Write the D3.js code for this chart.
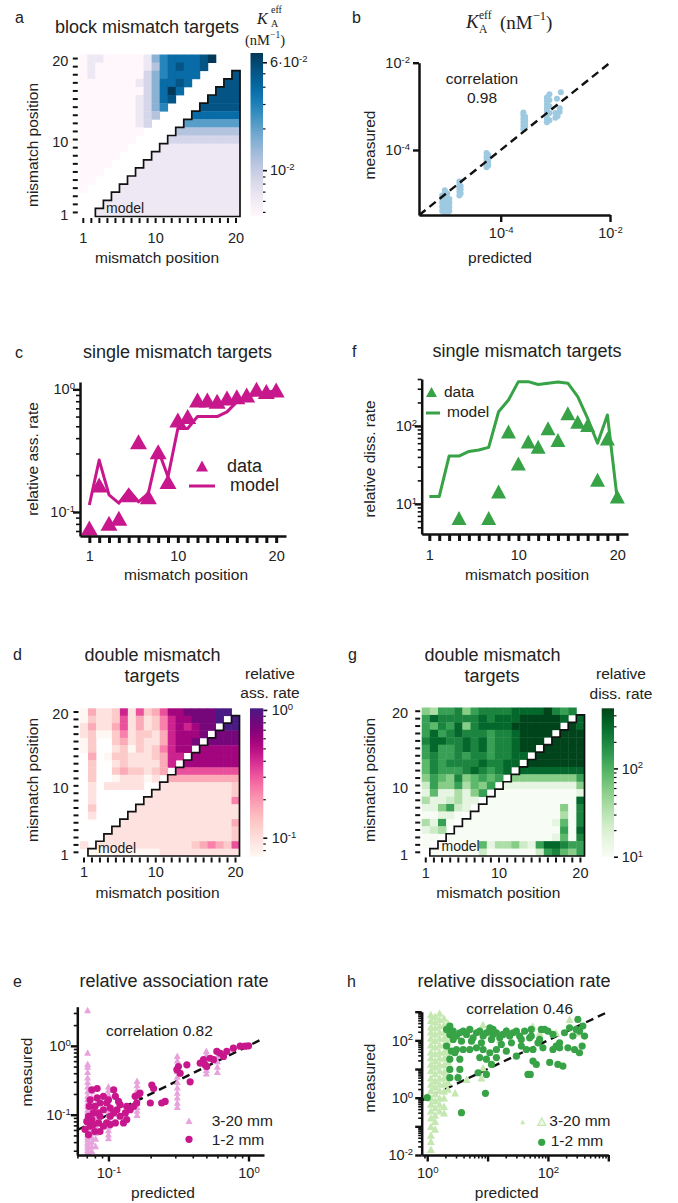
<!DOCTYPE html>
<html>
<head>
<meta charset="utf-8">
<title>mismatch targets</title>
<script src="https://cdn.jsdelivr.net/npm/d3@7/dist/d3.min.js"></script>
<style>
  body { margin: 0; background: #fff; }
  text { font-family: "Liberation Sans", Arial, Helvetica, sans-serif; fill: #222; }
  text.math { font-family: "Liberation Serif", "DejaVu Serif", serif; }
</style>
</head>
<body>
<script>
// ---------------- data ----------------
var positions = [1, 2, 3, 4, 5, 6, 7, 8, 9, 10, 11, 12, 13, 14, 15, 16, 17, 18, 19, 20];

// heat maps: one string per row, row 20 first, columns 1..20.
// digit = level 0-9 along the colour bar (log), "." = no target
var blockLevels = [
  "01100000146777789...",
  "0100000013678778....",
  "010000002467777....8",
  "00000001247787....88",
  "0000000024797....888",
  "000000012478....8888",
  "00000001246....88888",
  "0000000123....777777",
  "000000012....5555555",
  "00000000....33333333",
  "0000000....222222222",
  "000000....1111111111",
  "00000....11111111111",
  "0000....111111111111",
  "000....1111111111111",
  "00....11111111111111",
  "0....111111111111111",
  "....1111111111111111",
  "...11111111111111111",
  "..111111111111111111"
];
var doubleAssocLevels = [
  "0311261523577888899.",
  "021125131246778889.9",
  "13113513124676788.99",
  "1200241221367778.888",
  "02..23121136778.8888",
  "02..1202124677.77777",
  ".3.0221112366.777777",
  ".2..12111136.7777777",
  ".2..2322123.55555555",
  ".2..011101.333333333",
  ".1.11111..1111111112",
  ".1.......11111111112",
  ".1......111111111114",
  ".2.....1111111111111",
  ".1....11111111111111",
  ".....111111111111113",
  "....1111111111111112",
  "...11111111111111112",
  "1.111111111111234325",
  ".0000000001111111111"
];
var doubleDissLevels = [
  "4366746777788889767.",
  "687777787888999998.8",
  "65768478888999999.98",
  "6867877767789999.999",
  "788778786778999.9999",
  "68667878677899.99999",
  "6766767767788.999999",
  "576777787788.9999999",
  "57666787678.88888888",
  "4654745656.444444446",
  "264463546.1111111114",
  "15113146.00000000001",
  "3112311.000000000008",
  "114621.0000000000407",
  "00110.00000000000307",
  "3160.000000000001507",
  "123.0000000000000608",
  "00.00000000000001507",
  "0.000005133421688766",
  ".0000002000000267546"
];

// b: K_A^eff, [predicted, measured]
var kaPoints = [
  [8.5e-6, 4.0e-6], [8.5e-6, 5.0e-6], [8.5e-6, 6.2e-6], [8.5e-6, 7.5e-6], [8.5e-6, 9.0e-6],
  [9.5e-6, 3.7e-6], [9.5e-6, 4.5e-6], [9.5e-6, 5.5e-6], [9.5e-6, 6.8e-6], [9.5e-6, 8.2e-6], [9.5e-6, 1.0e-5], [9.5e-6, 1.2e-5],
  [1.05e-5, 3.6e-6], [1.05e-5, 4.3e-6], [1.05e-5, 5.3e-6], [1.05e-5, 6.5e-6], [1.05e-5, 8e-6], [1.05e-5, 1.0e-5],
  [1.15e-5, 4.0e-6], [1.15e-5, 5.0e-6], [1.15e-5, 6.2e-6], [1.15e-5, 7.5e-6],
  [1.75e-5, 9e-6], [1.75e-5, 1.1e-5], [1.75e-5, 1.35e-5], [1.75e-5, 1.6e-5], [1.75e-5, 1.9e-5],
  [1.85e-5, 1e-5], [1.85e-5, 1.25e-5], [1.85e-5, 1.5e-5],
  [5.5e-5, 4e-5], [5.5e-5, 4.8e-5], [5.5e-5, 5.8e-5], [5.5e-5, 7e-5], [5.5e-5, 8.5e-5],
  [5.9e-5, 4.4e-5], [5.9e-5, 5.3e-5], [5.9e-5, 6.4e-5], [5.9e-5, 7.7e-5],
  [2.6e-4, 3e-4], [2.6e-4, 3.6e-4], [2.6e-4, 4.3e-4], [2.6e-4, 5.2e-4], [2.6e-4, 6.3e-4], [2.6e-4, 7.2e-4],
  [2.8e-4, 3.3e-4], [2.8e-4, 4e-4], [2.8e-4, 4.8e-4], [2.8e-4, 5.8e-4],
  [7.0e-4, 4.3e-4], [7.0e-4, 5.2e-4], [7.0e-4, 6.3e-4], [7.0e-4, 7.6e-4], [7.0e-4, 9.2e-4], [7.0e-4, 1.1e-3], [7.0e-4, 1.35e-3], [7.0e-4, 1.6e-3],
  [7.8e-4, 4.8e-4], [7.8e-4, 7e-4], [7.8e-4, 1e-3], [7.8e-4, 1.4e-3], [7.8e-4, 1.9e-3],
  [1.0e-3, 5.5e-4], [1.0e-3, 7e-4], [1.1e-3, 6e-4], [1.2e-3, 7.5e-4], [1.2e-3, 9e-4],
  [1.07e-3, 1.5e-3], [1.26e-3, 2.1e-3]
];

// c, f: single mismatch targets per position
var singleAssocData  = [0.074, 0.166, 0.081, 0.089, 0.138, 0.374, 0.133, 0.31, 0.177, 0.562, 0.6, 0.82, 0.82, 0.8, 0.85, 0.87, 0.9, 1.0, 0.96, 0.99];
var singleAssocModel = [0.114, 0.265, 0.138, 0.118, 0.151, 0.121, 0.142, 0.32, 0.194, 0.48, 0.48, 0.6, 0.6, 0.6, 0.655, 0.79, 0.85, 0.93, 0.93, 0.99];
var singleDissData   = [null, null, null, 6.6, null, null, 6.6, 14.4, 84.5, 33, 63, 54, 93, 66, 145, 113, 103, 20.3, 69, 12.4];
var singleDissModel  = [12.4, 12.4, 41, 41, 47, 49, 53, 152, 215, 370, 370, 340, 353, 365, 353, 238, 125, 60, 138, 11.3];

// e: relative association rate, 3-20 mm (predicted value with its measured values) and 1-2 mm pairs
var assocMultiPred = [0.071, 0.076, 0.081, 0.1, 0.16, 0.31, 0.5, 0.6];
var assocMultiMeas = [
  [0.029, 0.031, 0.034, 0.037, 0.040, 0.044, 0.048, 0.052, 0.057, 0.062, 0.068, 0.075, 0.082, 0.09, 0.1, 0.11, 0.12, 0.135, 0.15, 0.17, 0.19, 0.22, 0.26, 0.3, 0.35, 0.42, 0.5, 0.55, 0.8, 3.3],
  [0.03, 0.035, 0.041, 0.048, 0.056, 0.065, 0.075, 0.087, 0.1, 0.115, 0.13, 0.15, 0.18, 0.22],
  [0.035, 0.045, 0.055, 0.07, 0.085, 0.1, 0.12, 0.14],
  [0.046, 0.052, 0.06, 0.068, 0.077, 0.087, 0.1, 0.115, 0.13, 0.15, 0.17, 0.2, 0.23, 0.26],
  [0.1, 0.115, 0.13, 0.15, 0.17, 0.2, 0.23, 0.27, 0.31],
  [0.13, 0.15, 0.18, 0.21, 0.25, 0.3, 0.36, 0.43, 0.52, 0.62, 0.72],
  [0.4, 0.45, 0.5, 0.57, 0.65, 0.75, 0.85],
  [0.42, 0.5, 0.6, 0.72, 0.85]
];
var assocDouble = [
  [0.072, 0.051], [0.074, 0.068], [0.076, 0.085], [0.078, 0.106], [0.080, 0.132], [0.083, 0.175], [0.073, 0.132],
  [0.087, 0.095], [0.092, 0.118], [0.097, 0.148], [0.103, 0.095], [0.109, 0.106], [0.115, 0.118], [0.085, 0.076],
  [0.080, 0.057], [0.076, 0.23], [0.083, 0.24], [0.092, 0.185], [0.1, 0.165], [0.112, 0.076], [0.121, 0.095],
  [0.132, 0.106], [0.135, 0.132], [0.143, 0.118], [0.151, 0.132], [0.155, 0.185], [0.164, 0.195], [0.168, 0.206],
  [0.159, 0.148], [0.135, 0.085], [0.112, 0.185], [0.109, 0.23], [0.121, 0.14], [0.204, 0.27], [0.21, 0.24],
  [0.199, 0.148], [0.24, 0.148], [0.254, 0.156], [0.308, 0.45], [0.316, 0.5], [0.325, 0.4], [0.363, 0.53],
  [0.383, 0.3], [0.452, 0.56], [0.477, 0.63], [0.49, 0.53], [0.503, 0.5], [0.532, 0.66], [0.562, 0.63],
  [0.594, 0.83], [0.628, 0.78], [0.663, 0.7], [0.7, 0.83], [0.78, 0.925], [0.872, 0.99], [0.946, 0.99], [1.0, 1.0],
  [0.092, 0.068], [0.097, 0.076], [0.087, 0.148], [0.078, 0.072], [0.072, 0.095], [0.087, 0.057], [0.103, 0.125],
  [0.074, 0.165], [0.085, 0.106], [0.068, 0.061], [0.070, 0.080], [0.128, 0.076], [0.103, 0.072], [0.118, 0.156]
];

// h: relative dissociation rate
var dissMultiPred = [1.15, 1.35, 1.6, 1.9, 2.2];
var dissMultiMeas = [
  [800, 500, 300, 200, 120, 70, 40, 25, 15, 9, 5, 3, 1.8, 1, 0.6, 0.35, 0.2, 0.1, 0.05, 0.03, 0.016],
  [700, 450, 280, 170, 100, 60, 35, 20, 12, 7, 4, 2.4, 1.4, 0.8, 0.45, 0.25, 0.15, 0.08],
  [900, 550, 330, 200, 120, 70, 40, 25, 15, 9, 5, 3, 1.8, 1, 0.6, 0.35],
  [600, 350, 200, 120, 70, 40, 24, 14, 8, 5, 3, 1.7, 1, 0.5, 0.3],
  [400, 250, 150, 90, 50, 30, 18, 10, 6, 3.5, 2]
];
var dissMultiExtra = [[8.4, 360], [7.9, 5], [8.4, 11], [4.5, 4.4], [3.1, 5.7], [2.9, 1.5], [73, 184], [56, 315],
  [228, 540], [330, 184], [16, 107], [9.6, 184], [20.5, 240], [137, 184]];
var dissDouble = [
  [2.09, 240], [2.37, 161], [2.69, 210], [3.05, 141], [3.47, 184], [3.94, 210], [4.47, 161], [5.07, 240], [5.76, 123],
  [6.54, 184], [7.42, 210], [8.43, 141], [9.57, 184], [10.9, 210], [12.3, 161], [14.0, 184], [15.9, 123], [18.0, 161],
  [20.5, 210], [23.2, 141], [26.4, 184], [30.0, 210], [34.0, 141], [41.1, 210], [49.8, 123], [72.8, 108], [88.1, 240],
  [100, 210], [121, 161], [137, 63], [156, 82], [188, 184], [228, 275], [259, 141], [294, 240], [333, 210], [379, 314],
  [404, 141], [369, 63], [333, 37], [156, 55], [121, 48], [82.6, 55], [68.4, 82], [56.5, 48], [43.9, 48], [36.2, 63],
  [30.0, 28], [20.5, 42], [14.0, 48], [10.9, 37], [8.43, 48], [6.54, 55], [5.07, 48], [3.94, 48], [3.05, 48],
  [2.52, 42], [2.09, 63], [2.37, 22], [2.87, 37], [3.47, 22], [9.57, 22], [7.42, 25], [11.6, 14.5], [14.0, 25],
  [6.97, 7.4], [9.57, 6.5], [3.47, 9.7], [2.37, 9.7], [2.37, 5.0], [3.25, 5.0], [56.5, 19], [64.1, 14.5], [46.7, 6.5],
  [51.0, 6.5], [107, 17], [146, 14.5], [177, 12.7], [214, 55], [276, 48], [2.69, 108], [3.69, 94], [5.41, 94],
  [7.91, 82], [11.6, 108], [16.9, 72], [24.8, 82], [36.2, 108], [53.0, 141], [12.3, 240], [2.37, 314], [77.6, 240],
  [313, 536], [10.9, 275], [53.0, 240], [1.0, 1.0], [3.69, 0.30], [9.21, 1.42]
];

// ---------------- drawing ----------------
var svg = d3.select("body").append("svg").attr("width", 678).attr("height", 1203);
var defs = svg.append("defs");
var spine = "#111";
var magenta = "#c8178c", pinkLight = "#e6a3dc", green = "#37a346", greenLight = "#c4e8b0", blueLight = "#9ecae1";

function label(x, y, s, size, anchor) {
  return svg.append("text").attr("x", x).attr("y", y).attr("font-size", size)
    .attr("text-anchor", anchor || "start").text(s);
}
function vlabel(x, y, s) {
  return svg.append("text").attr("transform", "translate(" + x + "," + y + ") rotate(-90)")
    .attr("text-anchor", "middle").attr("font-size", 15.5).text(s);
}
function mathText(x, y, size, s, italic) {
  var t = svg.append("text").attr("class", "math").attr("x", x).attr("y", y).attr("font-size", size).text(s);
  if (italic) t.attr("font-style", "italic");
  return t;
}
// "(nM^-1)" on one baseline, superscript raised
function unitText(x, y, size) {
  var t = svg.append("text").attr("class", "math").attr("x", x).attr("y", y).attr("font-size", size);
  t.append("tspan").text("(nM");
  t.append("tspan").attr("dy", -0.45 * size).attr("font-size", size * 0.66).text("−1");
  t.append("tspan").attr("dy", 0.45 * size).text(")");
  return t;
}
function powLabel(d) { return ["10", String(Math.round(Math.log10(d)))]; }
function logMinors(lo, hi) {
  var out = [];
  for (var e = Math.floor(Math.log10(lo)); e <= Math.ceil(Math.log10(hi)); e++)
    for (var k = 2; k <= 9; k++) {
      var v = k * Math.pow(10, e);
      if (v >= lo && v <= hi) out.push(v);
    }
  return out;
}
function tickText(g, fmt, size, dy) {
  g.selectAll(".tick text").attr("font-size", size || 14.5).each(function(d) {
    var t = d3.select(this), p = fmt(d);
    t.text("");
    if (dy) t.attr("dy", dy);
    if (!p) return;
    t.append("tspan").text(p[0]);
    if (p[1] !== undefined) t.append("tspan").attr("dy", "-0.55em").attr("font-size", "0.66em").text(p[1]);
  });
}
function axis(fn, scale, o) {
  var g = svg.append("g").attr("transform", o.tr);
  if (o.minor) {
    var m = g.append("g").call(fn(scale).tickValues(o.minor).tickSize(o.minLen || 4).tickSizeOuter(0).tickFormat(""));
    m.select(".domain").remove();
    m.selectAll(".tick line").attr("stroke", spine).attr("stroke-width", o.minW || 1.6);
  }
  var a = g.append("g").call(fn(scale).tickValues(o.major).tickSize(o.majLen || 7)
    .tickSizeOuter(0).tickPadding(o.pad == null ? 3 : o.pad));
  if (o.noDomain) a.select(".domain").remove();
  else a.select(".domain").attr("stroke", spine).attr("stroke-width", o.domW || 2.5);
  a.selectAll(".tick line").attr("stroke", spine).attr("stroke-width", o.majW || 2.4);
  tickText(a, o.fmt || powLabel, o.size, o.dy);
  return g;
}
function triPath(w, h) { return "M0," + (-h / 2) + "L" + (w / 2) + "," + (h / 2) + "L" + (-w / 2) + "," + (h / 2) + "Z"; }
function diag(x, y) {
  var lo = Math.max(x.domain()[0], y.domain()[0]), hi = Math.min(x.domain()[1], y.domain()[1]);
  svg.append("line").attr("x1", x(lo)).attr("y1", y(lo)).attr("x2", x(hi)).attr("y2", y(hi))
    .attr("stroke", spine).attr("stroke-width", 2.4).attr("stroke-dasharray", "8,5");
}
var labelEnds = function(d) { return (d === 1 || d === 10 || d === 20) ? [String(d)] : null; };

var gradN = 0;
function colorbar(box, interp, lo, hi, major, minor, fmt) {
  var id = "cb" + (gradN++);
  var grad = defs.append("linearGradient").attr("id", id).attr("x1", 0).attr("y1", 1).attr("x2", 0).attr("y2", 0);
  d3.range(0, 21).forEach(function(i) { grad.append("stop").attr("offset", i / 20).attr("stop-color", interp(i / 20)); });
  svg.append("rect").attr("x", box.x0).attr("y", box.y0).attr("width", box.x1 - box.x0)
    .attr("height", box.y1 - box.y0).attr("fill", "url(#" + id + ")");
  var s = d3.scaleLog().domain([lo, hi]).range([box.y1, box.y0]);
  axis(d3.axisRight, s, { tr: "translate(" + box.x1 + ",0)", major: major, minor: minor, majLen: 4, minLen: 2.5,
    majW: 1.6, minW: 1.2, pad: box.pad, noDomain: true, fmt: fmt });
}

function heatmap(levels, box, interp, lo, hi, modelOffset, opt) {
  var color = d3.scaleSequentialLog(interp).domain([lo, hi]);
  var x = d3.scaleBand().domain(positions).range([box.x0, box.x1]);
  var y = d3.scaleBand().domain(positions).range([box.y1, box.y0]);
  var cells = [];
  levels.forEach(function(row, i) {
    row.split("").forEach(function(ch, j) {
      if (ch === ".") return;
      cells.push({ r: 20 - i, c: j + 1, v: lo * Math.pow(hi / lo, +ch / 9) });
    });
  });
  svg.append("g").selectAll("rect").data(cells).enter().append("rect")
    .attr("x", function(d) { return x(d.c); }).attr("y", function(d) { return y(d.r); })
    .attr("width", x.bandwidth() + 0.4).attr("height", y.bandwidth() + 0.4)
    .attr("fill", function(d) { return color(d.v); });
  // outline of the model triangle
  var isModel = function(r, c) { return r >= 1 && r <= 20 && c >= 1 && c <= 20 && c - r >= modelOffset; };
  var segs = [];
  cells.filter(function(d) { return isModel(d.r, d.c); }).forEach(function(d) {
    var x0 = x(d.c), x1 = x0 + x.bandwidth(), y0 = y(d.r), y1 = y0 + y.bandwidth();
    if (!isModel(d.r + 1, d.c)) segs.push([x0, y0, x1, y0]);
    if (!isModel(d.r - 1, d.c)) segs.push([x0, y1, x1, y1]);
    if (!isModel(d.r, d.c - 1)) segs.push([x0, y0, x0, y1]);
    if (!isModel(d.r, d.c + 1)) segs.push([x1, y0, x1, y1]);
  });
  svg.append("path").attr("d", segs.map(function(s) { return "M" + s[0] + "," + s[1] + "L" + s[2] + "," + s[3]; }).join(""))
    .attr("fill", "none").attr("stroke", spine).attr("stroke-width", 1.7).attr("stroke-linecap", "square");
  label(opt.modelX, opt.modelY, "model", 14);

  axis(d3.axisLeft, y, { tr: "translate(" + (box.x0 - 1.5) + ",0)", major: positions, majLen: 5, majW: 2,
    pad: opt.ypad, noDomain: true, fmt: labelEnds, dy: "0.5em" });
  axis(d3.axisBottom, x, { tr: "translate(0," + (box.y1 + 1.5) + ")", major: positions, majLen: 5, majW: 2,
    pad: opt.xpad, noDomain: true, fmt: labelEnds });
}

// ---------- a ----------
label(15, 23, "a", 16);
label(147, 33, "block mismatch targets", 18, "middle");
heatmap(blockLevels, { x0: 79.3, x1: 240, y0: 54.5, y1: 216.5 }, d3.interpolatePuBu, 4.67e-3, 7e-2, 2,
  { modelX: 106, modelY: 212.5, ypad: 4.5, xpad: 10 });
colorbar({ x0: 250.5, x1: 263, y0: 53, y1: 216, pad: 3 }, d3.interpolatePuBu, 4.67e-3, 7e-2,
  [0.06, 0.01], [0.05, 0.04, 0.03, 0.02, 0.009, 0.008, 0.007, 0.006, 0.005],
  function(d) { return d === 0.06 ? ["6·10", "-2"] : ["10", "-2"]; });
vlabel(38, 145, "mismatch position");
label(157, 263, "mismatch position", 15.5, "middle");
mathText(257, 24, 16, "K", true);
mathText(271, 13, 10, "eff");
mathText(271, 26.5, 10, "A");
unitText(245, 44.5, 14.5);

// ---------- b ----------
label(352, 23, "b", 16);
mathText(466, 28, 19, "K", true);
mathText(479, 19, 11.5, "eff");
mathText(479, 33, 11.5, "A");
unitText(500, 29, 19);

var bX = d3.scaleLog().domain([Math.pow(10, -5.495), 1e-2]).range([419, 610]);
var bY = d3.scaleLog().domain([Math.pow(10, -5.49), 1e-2]).range([215, 62.7]);
svg.append("g").selectAll("circle").data(kaPoints).enter().append("circle")
  .attr("cx", function(d) { return bX(d[0]); }).attr("cy", function(d) { return bY(d[1]); })
  .attr("r", 3).attr("fill", blueLight);
diag(bX, bY);
axis(d3.axisLeft, bY, { tr: "translate(419,0)", major: [1e-4, 1e-2], majLen: 6, pad: 3 });
axis(d3.axisBottom, bX, { tr: "translate(0,215)", major: [1e-4, 1e-2], majLen: 7, pad: 6 });
label(482, 84, "correlation", 15.5, "middle");
label(482, 103, "0.98", 15.5, "middle");
vlabel(375, 145, "measured");
label(500, 263, "predicted", 15.5, "middle");

// ---------- c ----------
label(15, 358, "c", 16);
label(177.5, 358, "single mismatch targets", 18, "middle");
var cX = d3.scaleLinear().domain([0.05, 21.0]).range([80, 286]);
var cY = d3.scaleLog().domain([0.0637, 1.148]).range([536, 382]);
var cData = positions.map(function(p, i) { return { p: p, v: singleAssocData[i], m: singleAssocModel[i] }; });
svg.append("g").selectAll("path").data(cData).enter().append("path")
  .attr("d", triPath(17, 15)).attr("fill", magenta)
  .attr("transform", function(d) { return "translate(" + cX(d.p) + "," + cY(d.v) + ")"; });
svg.append("path").datum(cData).attr("fill", "none").attr("stroke", magenta).attr("stroke-width", 3)
  .attr("stroke-linejoin", "round")
  .attr("d", d3.line().x(function(d) { return cX(d.p); }).y(function(d) { return cY(d.m); }));
axis(d3.axisLeft, cY, { tr: "translate(80,0)", major: [0.1, 1], minor: logMinors(0.0637, 1.148), majLen: 7, minLen: 4, pad: -2 });
axis(d3.axisBottom, cX, { tr: "translate(0,536)", major: positions, majLen: 7, majW: 3, pad: 8, fmt: labelEnds });
svg.append("path").attr("d", triPath(12, 11)).attr("fill", magenta).attr("transform", "translate(202,466)");
label(227, 472, "data", 18);
svg.append("line").attr("x1", 189).attr("x2", 215).attr("y1", 486).attr("y2", 486).attr("stroke", magenta).attr("stroke-width", 3);
label(230, 491, "model", 18);
vlabel(38, 459, "relative ass. rate");
label(186, 580, "mismatch position", 15.5, "middle");

// ---------- f ----------
label(352, 357, "f", 16);
label(527, 357, "single mismatch targets", 18, "middle");
var fX = d3.scaleLinear().domain([0.23, 21.08]).range([421.7, 628]);
var fY = d3.scaleLog().domain([4.1, 400]).range([534, 379]);
var fData = positions.map(function(p, i) { return { p: p, v: singleDissData[i], m: singleDissModel[i] }; });
svg.append("g").selectAll("path").data(fData.filter(function(d) { return d.v != null; })).enter().append("path")
  .attr("d", triPath(15, 14)).attr("fill", green)
  .attr("transform", function(d) { return "translate(" + fX(d.p) + "," + fY(d.v) + ")"; });
svg.append("path").datum(fData).attr("fill", "none").attr("stroke", green).attr("stroke-width", 3)
  .attr("stroke-linejoin", "round")
  .attr("d", d3.line().x(function(d) { return fX(d.p); }).y(function(d) { return fY(d.m); }));
axis(d3.axisLeft, fY, { tr: "translate(421.7,0)", major: [10, 100], minor: logMinors(4.1, 400), majLen: 7, minLen: 4, pad: -2.5 });
axis(d3.axisBottom, fX, { tr: "translate(0,534)", major: positions, majLen: 7, majW: 3, pad: 9, fmt: labelEnds });
svg.append("path").attr("d", triPath(11, 10)).attr("fill", green).attr("transform", "translate(431.5,392)");
label(444, 397, "data", 15.5);
svg.append("line").attr("x1", 426).attr("x2", 440).attr("y1", 413).attr("y2", 413).attr("stroke", green).attr("stroke-width", 3);
label(447, 417, "model", 15.5);
vlabel(375, 459, "relative diss. rate");
label(527, 580, "mismatch position", 15.5, "middle");

// ---------- d ----------
label(13, 660, "d", 16);
label(152.5, 660.5, "double mismatch", 18, "middle");
label(152, 682, "targets", 18, "middle");
var rdpu = d3.interpolateRgbBasis(["#fff7f3", "#fde0dd", "#fcc5c0", "#fa9fb5", "#f768a1", "#dd3497", "#ae017e", "#7a0177", "#4a1a84"]);
heatmap(doubleAssocLevels, { x0: 80, x1: 239.5, y0: 708.3, y1: 856 }, rdpu, 0.071, 1.03, 1,
  { modelX: 98, modelY: 852.5, ypad: 5, xpad: 4 });
colorbar({ x0: 250, x1: 263.3, y0: 708.3, y1: 856.7, pad: 4.4 }, rdpu, 0.071, 1.03,
  [0.1, 1], logMinors(0.071, 1.03));
label(270, 679, "relative", 15.5, "middle");
label(270, 698, "ass. rate", 15.5, "middle");
vlabel(38, 780, "mismatch position");
label(157.5, 898, "mismatch position", 15.5, "middle");

// ---------- g ----------
label(348, 660, "g", 16);
label(492.5, 660.5, "double mismatch", 18, "middle");
label(492, 682, "targets", 18, "middle");
heatmap(doubleDissLevels, { x0: 421.7, x1: 584.5, y0: 707.5, y1: 856 }, d3.interpolateGreens, 10, 480, 1,
  { modelX: 441.5, modelY: 851, ypad: 7, xpad: 5 });
colorbar({ x0: 601.7, x1: 614, y0: 708.3, y1: 856.7, pad: 3.7 }, d3.interpolateGreens, 10, 480,
  [10, 100], logMinors(10, 480));
label(621, 679, "relative", 15.5, "middle");
label(621, 699, "diss. rate", 15.5, "middle");
vlabel(375, 780, "mismatch position");
label(498.3, 898, "mismatch position", 15.5, "middle");

// ---------- e ----------
label(13, 987, "e", 16);
label(174, 987, "relative association rate", 18, "middle");
var eX = d3.scaleLog().domain([0.0599, 1.29]).range([77.3, 264]);
var eY = d3.scaleLog().domain([0.026, 3.7]).range([1155, 1006.7]);
diag(eX, eY);
var eTri = [];
assocMultiPred.forEach(function(p, i) { assocMultiMeas[i].forEach(function(m) { eTri.push([p, m]); }); });
svg.append("g").selectAll("path").data(eTri).enter().append("path")
  .attr("d", triPath(7, 6.5)).attr("fill", pinkLight)
  .attr("transform", function(d) { return "translate(" + eX(d[0]) + "," + eY(d[1]) + ")"; });
svg.append("g").selectAll("circle").data(assocDouble).enter().append("circle")
  .attr("cx", function(d) { return eX(d[0]); }).attr("cy", function(d) { return eY(d[1]); })
  .attr("r", 3.6).attr("fill", magenta);
axis(d3.axisLeft, eY, { tr: "translate(77.3,0)", major: [0.1, 1], minor: logMinors(0.026, 3.7), majLen: 6.5, minLen: 3.5, pad: 0 });
axis(d3.axisBottom, eX, { tr: "translate(0,1155)", major: [0.1, 1], minor: logMinors(0.0599, 1.29), majLen: 6.5, minLen: 3.5, pad: 6 });
label(106, 1036, "correlation 0.82", 15.5);
svg.append("path").attr("d", triPath(7, 6.5)).attr("fill", pinkLight).attr("transform", "translate(189,1120.7)");
label(211.7, 1126, "3-20 mm", 15.5);
svg.append("circle").attr("cx", 189).attr("cy", 1139.3).attr("r", 3.6).attr("fill", magenta);
label(211.7, 1145, "1-2 mm", 15.5);
vlabel(32, 1072, "measured");
label(163, 1198, "predicted", 15.5, "middle");

// ---------- h ----------
label(347, 987, "h", 16);
label(514, 987, "relative dissociation rate", 18, "middle");
var hX = d3.scaleLog().domain([0.81, 1000]).range([421.7, 608.3]);
var hY = d3.scaleLog().domain([0.01, 1000]).range([1155, 1011.7]);
diag(hX, hY);
var hTri = dissMultiExtra.slice();
dissMultiPred.forEach(function(p, i) { dissMultiMeas[i].forEach(function(m) { hTri.push([p, m]); }); });
svg.append("g").selectAll("path").data(hTri).enter().append("path")
  .attr("d", triPath(8, 7.5)).attr("fill", greenLight)
  .attr("transform", function(d) { return "translate(" + hX(d[0]) + "," + hY(d[1]) + ")"; });
svg.append("g").selectAll("circle").data(dissDouble).enter().append("circle")
  .attr("cx", function(d) { return hX(d[0]); }).attr("cy", function(d) { return hY(d[1]); })
  .attr("r", 3.6).attr("fill", green);
var evenPow = function(d) { var e = Math.round(Math.log10(d)); return e % 2 === 0 ? ["10", String(e)] : null; };
axis(d3.axisLeft, hY, { tr: "translate(421.7,0)", major: [0.01, 0.1, 1, 10, 100, 1000], minor: logMinors(0.01, 1000),
  majLen: 6.5, minLen: 3.5, pad: 2, fmt: evenPow });
axis(d3.axisBottom, hX, { tr: "translate(0,1155)", major: [1, 10, 100, 1000], minor: logMinors(0.81, 1000),
  majLen: 6.5, minLen: 3.5, pad: 6, fmt: evenPow });
label(519.7, 1014.3, "correlation 0.46", 15.5, "middle");
svg.append("path").attr("d", triPath(5, 4.5)).attr("fill", greenLight).attr("transform", "translate(522.7,1122)");
svg.append("path").attr("d", triPath(8, 7.5)).attr("fill", "#eef8e8").attr("stroke", greenLight).attr("stroke-width", 1.2)
  .attr("transform", "translate(541.7,1121.7)");
label(549.3, 1126, "3-20 mm", 15.5);
svg.append("circle").attr("cx", 541.7).attr("cy", 1142.3).attr("r", 3.6).attr("fill", green);
label(550.7, 1146, "1-2 mm", 15.5);
vlabel(375, 1078, "measured");
label(506.7, 1198, "predicted", 15.5, "middle");
</script>
</body>
</html>
